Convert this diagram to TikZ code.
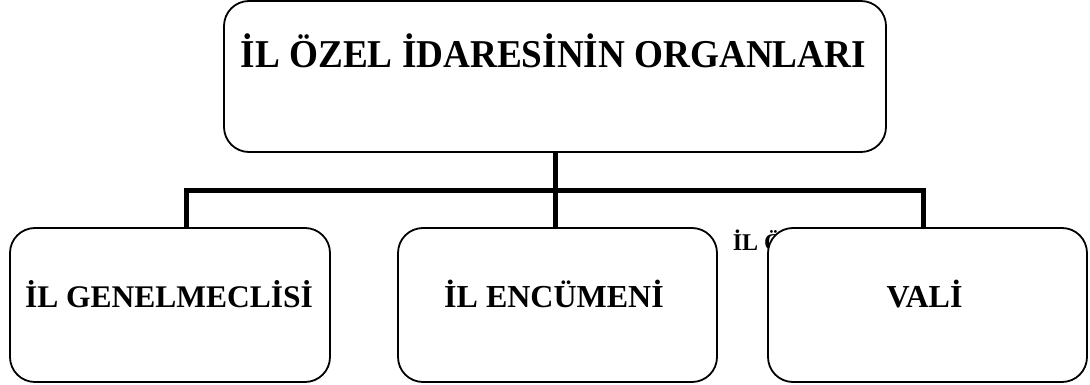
\documentclass[tikz,border=0pt]{standalone}
\usepackage{fontspec}
\setmainfont{Liberation Serif}
\tikzset{every picture/.style={line width=0.75pt}}
\tikzset{
	orgbox/.style={draw, fill=white, rounded corners=25pt, line width=1.8pt, inner sep=0pt},
	orgtext/.style={anchor=base, inner sep=0pt, font=\bfseries\fontsize{31.5}{36}\selectfont},
	orgline/.style={line width=5pt, line join=miter}}

\begin{document}
\begin{tikzpicture}[x=1pt,y=1pt,yscale=-1,xscale=1]
	\useasboundingbox (0,0) rectangle (1090,385);

	%Shape: Rounded Rect [id:top]
	\node [orgbox, minimum width=662pt, minimum height=151pt] (top) at (555,76.5) {};
	% Text Node
	\node [orgtext, font=\bfseries\fontsize{37.2}{42}\selectfont] (toptext) at (553.4,68) {\scalebox{1}[1.06]{İL ÖZEL İDARESİNİN ORGANLARI}};

	%Shape: Rounded Rect [id:meclis]
	\node [orgbox, minimum width=320pt, minimum height=154pt] (meclis) at (170,305) {};
	%Shape: Rounded Rect [id:encumen]
	\node [orgbox, minimum width=319pt, minimum height=154pt] (encumen) at (557.5,305) {};

	% Text Node (lies under the right box)
	\node [anchor=base west, inner sep=0pt, font=\bfseries\fontsize{24}{29}\selectfont] (ghost) at (732.5,250) {İL Ö};

	%Shape: Rounded Rect [id:vali]
	\node [orgbox, minimum width=319pt, minimum height=154pt] (vali) at (927.5,305) {};

	% Text Node
	\node [orgtext] (meclistext) at (169,307.5) {İL GENELMECLİSİ};
	% Text Node
	\node [orgtext, font=\bfseries\fontsize{32}{37}\selectfont] (encumentext) at (554,307.5) {İL ENCÜMENİ};
	% Text Node
	\node [orgtext, font=\bfseries\fontsize{32}{37}\selectfont] (valitext) at (924.5,307.5) {VALİ};

	%Straight Lines
	\coordinate (barL) at (186,190);
	\coordinate (barR) at (923,190);
	\draw [orgline] (barL |- meclis.north) -- (barL) -- (barR) -- (barR |- vali.north);
	\draw [orgline] (top.south) -- (top.south |- encumen.north);

\end{tikzpicture}
\end{document}
